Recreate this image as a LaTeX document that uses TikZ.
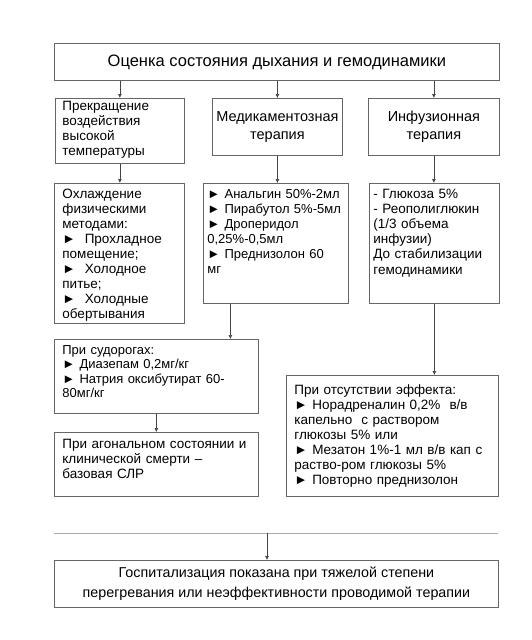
\documentclass[tikz,border=0pt]{standalone}
\usepackage{fontspec}
\setmainfont{Liberation Sans}
\usetikzlibrary{arrows.meta}
\definecolor{boxline}{HTML}{666666}
\definecolor{linkline}{HTML}{444444}
\definecolor{ruleline}{HTML}{AAAAAA}
\begin{document}
\begin{tikzpicture}[x=1pt, y=-1pt,
    box/.style={draw=boxline, line width=0.8pt, anchor=north west, align=left,
      inner ysep=0pt, font=\fontsize{13.5}{15}\selectfont},
    headbox/.style={draw=boxline, line width=0.8pt, anchor=north west, align=center,
      inner sep=0pt},
    link/.style={draw=linkline, line width=0.6pt, -{Latex[length=4pt,width=4pt]}}]
    \useasboundingbox (0,0) rectangle (532,640);

    % Assessment
    \node[headbox, minimum width=445pt, minimum height=37pt,
      font=\fontsize{16.5}{18}\selectfont] (assess) at (54,43)
      {Оценка состояния дыхания и гемодинамики};

    % Three branches
    \node[box, inner xsep=7pt, text width=115pt, text height=12pt, text depth=53pt] (stop) at (55,98)
      {Прекращение\\воздействия\\высокой\\температуры};
    \node[headbox, minimum width=130pt, minimum height=57pt,
      font=\fontsize{14.5}{18}\selectfont] (drugs) at (212,98)
      {Медикаментозная\\терапия};
    \node[headbox, minimum width=131pt, minimum height=57pt,
      font=\fontsize{14.5}{18}\selectfont] (infus) at (368,98)
      {Инфузионная\\терапия};

    % Measures
    \node[box, inner xsep=8pt, text width=114pt, text height=15pt, text depth=125pt] (cool) at (54,183)
      {Охлаждение\\физическими\\методами:\\► \ Прохладное\\помещение;\\► \ Холодное\\питье;\\► \ Холодные\\обертывания};
    \node[box, inner xsep=4pt, text width=137pt, text height=15pt, text depth=105pt,
      font=\fontsize{13}{15}\selectfont] (meds) at (203,183)
      {► Анальгин 50\%-2мл\\► Пирабутол 5\%-5мл\\► Дроперидол\\0,25\%-0,5мл\\► Преднизолон 60\\мг};
    \node[box, inner xsep=4pt, text width=122pt, text height=15pt, text depth=105pt] (fluids) at (369,183)
      {- Глюкоза 5\%\\- Реополиглюкин\\(1/3 объема\\инфузии)\\До стабилизации\\[1pt]гемодинамики};

    % Further steps
    \node[box, inner xsep=8pt, text width=188pt, text height=15pt, text depth=59pt,
      font=\fontsize{13}{14.5}\selectfont] (seiz) at (54,339)
      {При судорогах:\\► Диазепам 0,2мг/кг\\► Натрия оксибутират 60-\\80мг/кг};
    \node[box, inner xsep=8pt, text width=188pt, text height=16pt, text depth=48pt] (agonal) at (54,432)
      {При агональном состоянии и\\клинической смерти --\\базовая СЛР};
    \node[box, inner xsep=8pt, text width=196pt, text height=19pt, text depth=102pt] (noeff) at (286,375)
      {При отсутствии эффекта:\\► Норадреналин 0,2\% \ в/в\\капельно \ с раствором\\глюкозы 5\% или\\\makebox[\linewidth][s]{► Мезатон 1\%-1 мл в/в кап с}\\раство-ром глюкозы 5\%\\► Повторно преднизолон};

    % Hospitalisation
    \coordinate (ruleL) at (54,533);
    \coordinate (ruleR) at (498,533);
    \coordinate (ruleM) at (267,533);
    \draw[ruleline, line width=0.8pt] (ruleL) -- (ruleR);
    \node[headbox, minimum width=444pt, minimum height=47pt,
      font=\fontsize{14.3}{20}\selectfont] (hosp) at (54,560)
      {Госпитализация показана при тяжелой степени\\перегревания или неэффективности проводимой терапии};

    % Links
    \draw[link] (assess.south -| stop.north) -- (stop.north);
    \draw[link] (assess.south -| drugs.north) -- (drugs.north);
    \draw[link] (assess.south -| infus.north) -- (infus.north);
    \draw[link] (stop.south) -- (stop.south |- cool.north);
    \draw[link] (drugs.south) -- (drugs.south |- meds.north);
    \draw[link] (infus.south) -- (infus.south |- fluids.north);
    \draw[link] ([xshift=-45.5pt]meds.south) -- ([xshift=-45.5pt]meds.south |- seiz.north);
    \draw[link] (seiz.south) -- (seiz.south |- agonal.north);
    \draw[link] (fluids.south) -- (fluids.south |- noeff.north);
    \draw[link] (ruleM) -- (ruleM |- hosp.north);
\end{tikzpicture}
\end{document}
